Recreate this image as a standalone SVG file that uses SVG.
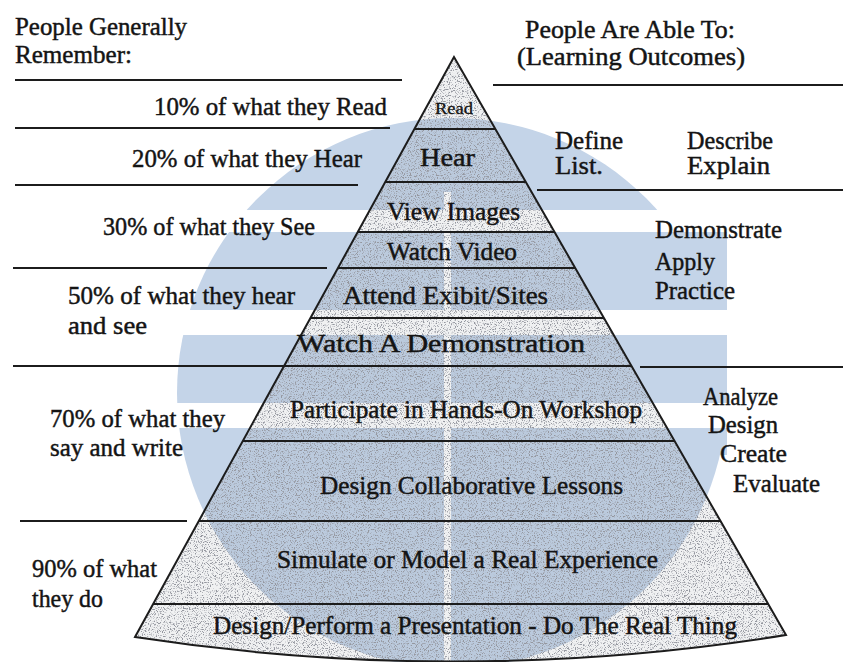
<svg xmlns="http://www.w3.org/2000/svg" width="843" height="662" viewBox="0 0 843 662">
  <style>
    .t { font-family: "Liberation Serif", "Times New Roman", serif; font-size: 25px; fill: #141414; stroke: #141414; stroke-width: 0.45; }
    .s { font-size: 17px; stroke-width: 0.3; }
    .rule { stroke: #1c1c1c; stroke-width: 2; fill: none; }
    .band { stroke: #1c1c1c; stroke-width: 2; }
  </style>
  <defs>
    <!-- stipple texture for the cone -->
    <filter id="stipple" x="0" y="0" width="1" height="1">
      <feTurbulence type="fractalNoise" baseFrequency="0.85" numOctaves="2" seed="7" result="noise"/>
      <feColorMatrix in="noise" type="matrix" values="0 0 0 0 0.30  0 0 0 0 0.31  0 0 0 0 0.35  6 0 0 0 -3.15" result="dots"/>
      <feComposite in="dots" in2="SourceAlpha" operator="in"/>
    </filter>
    <!-- stripes cut into the background emblem -->
    <mask id="emblemCut" maskUnits="userSpaceOnUse" x="0" y="0" width="843" height="662">
      <rect x="0" y="0" width="843" height="210" fill="#fff"/>
      <rect x="0" y="232" width="843" height="78" fill="#fff"/>
      <rect x="0" y="335" width="843" height="68" fill="#fff"/>
      <rect x="0" y="428" width="843" height="234" fill="#fff"/>
      <rect x="444" y="192" width="7" height="470" fill="#000"/>
    </mask>
  </defs>

  <rect width="843" height="662" fill="#ffffff"/>

  <!-- background emblem -->
  <g id="emblem" fill="#c4d4e8" mask="url(#emblemCut)">
    <circle cx="452" cy="393" r="275"/>
    <rect x="452" y="232" width="275" height="223"/>
  </g>

  <!-- cone -->
  <g id="cone">
    <path d="M454,57 L135,637 Q460,687 786,635 Z" fill="#6f7784" fill-opacity="0.1"/>
    <path d="M454,57 L135,637 Q460,687 786,635 Z" fill="#000" filter="url(#stipple)"/>
    <path d="M454,57 L135,637 Q460,687 786,635 Z" class="rule"/>
  </g>

  <!-- band dividers inside the cone -->
  <g id="dividers">
    <line class="band" x1="414" y1="129" x2="495" y2="129"/>
    <line class="band" x1="385" y1="182" x2="526" y2="182"/>
    <line class="band" x1="358" y1="232" x2="554" y2="232"/>
    <line class="band" x1="338" y1="268" x2="575" y2="268"/>
    <line class="band" x1="310" y1="318" x2="604" y2="318"/>
    <line class="band" x1="284" y1="366" x2="631" y2="366"/>
    <line class="band" x1="243" y1="441" x2="675" y2="441"/>
    <line class="band" x1="199" y1="521" x2="720" y2="521"/>
    <line class="band" x1="153" y1="604" x2="768" y2="604"/>
  </g>

  <!-- side rules -->
  <g id="rules">
    <line class="rule" x1="15" y1="80" x2="402" y2="80"/>
    <line class="rule" x1="15" y1="128" x2="390" y2="128"/>
    <line class="rule" x1="15" y1="185" x2="358" y2="185"/>
    <line class="rule" x1="13" y1="268" x2="327" y2="268"/>
    <line class="rule" x1="13" y1="366" x2="284" y2="366"/>
    <line class="rule" x1="20" y1="521" x2="187" y2="521"/>
    <line class="rule" x1="493" y1="85" x2="843" y2="85"/>
    <line class="rule" x1="537" y1="190" x2="843" y2="190"/>
    <line class="rule" x1="640" y1="367" x2="843" y2="367"/>
  </g>

  <!-- cone labels -->
  <g id="cone-labels">
    <text class="t s" x="435" y="114" textLength="38" lengthAdjust="spacingAndGlyphs">Read</text>
    <text class="t" x="420" y="166" textLength="55" lengthAdjust="spacingAndGlyphs">Hear</text>
    <text class="t" x="387" y="220" textLength="133" lengthAdjust="spacingAndGlyphs">View Images</text>
    <text class="t" x="387" y="260" textLength="130" lengthAdjust="spacingAndGlyphs">Watch Video</text>
    <text class="t" x="343" y="304" textLength="205" lengthAdjust="spacingAndGlyphs">Attend Exibit/Sites</text>
    <text class="t" x="297" y="352" textLength="288" lengthAdjust="spacingAndGlyphs">Watch A Demonstration</text>
    <text class="t" x="290" y="418" textLength="352" lengthAdjust="spacingAndGlyphs">Participate in Hands-On Workshop</text>
    <text class="t" x="320" y="494" textLength="303" lengthAdjust="spacingAndGlyphs">Design Collaborative Lessons</text>
    <text class="t" x="277" y="568" textLength="381" lengthAdjust="spacingAndGlyphs">Simulate or Model a Real Experience</text>
    <text class="t" x="213" y="634" textLength="524" lengthAdjust="spacingAndGlyphs">Design/Perform a Presentation - Do The Real Thing</text>
  </g>

  <!-- retention column -->
  <g id="remember">
    <text class="t" x="15" y="35" textLength="172" lengthAdjust="spacingAndGlyphs">People Generally</text>
    <text class="t" x="15" y="63" textLength="117" lengthAdjust="spacingAndGlyphs">Remember:</text>
    <text class="t" x="154" y="115" textLength="233" lengthAdjust="spacingAndGlyphs">10% of what they Read</text>
    <text class="t" x="132" y="167" textLength="230" lengthAdjust="spacingAndGlyphs">20% of what they Hear</text>
    <text class="t" x="103" y="235" textLength="212" lengthAdjust="spacingAndGlyphs">30% of what they See</text>
    <text class="t" x="68" y="304" textLength="227" lengthAdjust="spacingAndGlyphs">50% of what they hear</text>
    <text class="t" x="68" y="334" textLength="79" lengthAdjust="spacingAndGlyphs">and see</text>
    <text class="t" x="50" y="427" textLength="175" lengthAdjust="spacingAndGlyphs">70% of what they</text>
    <text class="t" x="50" y="456" textLength="133" lengthAdjust="spacingAndGlyphs">say and write</text>
    <text class="t" x="32" y="577" textLength="125" lengthAdjust="spacingAndGlyphs">90% of what</text>
    <text class="t" x="32" y="607" textLength="71" lengthAdjust="spacingAndGlyphs">they do</text>
  </g>

  <!-- outcomes column -->
  <g id="outcomes">
    <text class="t" x="525" y="38" textLength="210" lengthAdjust="spacingAndGlyphs">People Are Able To:</text>
    <text class="t" x="517" y="65" textLength="228" lengthAdjust="spacingAndGlyphs">(Learning Outcomes)</text>
    <text class="t" x="555" y="149" textLength="68" lengthAdjust="spacingAndGlyphs">Define</text>
    <text class="t" x="687" y="149" textLength="86" lengthAdjust="spacingAndGlyphs">Describe</text>
    <text class="t" x="555" y="174" textLength="48" lengthAdjust="spacingAndGlyphs">List.</text>
    <text class="t" x="687" y="174" textLength="83" lengthAdjust="spacingAndGlyphs">Explain</text>
    <text class="t" x="655" y="238" textLength="127" lengthAdjust="spacingAndGlyphs">Demonstrate</text>
    <text class="t" x="655" y="270" textLength="60" lengthAdjust="spacingAndGlyphs">Apply</text>
    <text class="t" x="655" y="299" textLength="80" lengthAdjust="spacingAndGlyphs">Practice</text>
    <text class="t" x="703" y="405" textLength="75" lengthAdjust="spacingAndGlyphs">Analyze</text>
    <text class="t" x="708" y="433" textLength="70" lengthAdjust="spacingAndGlyphs">Design</text>
    <text class="t" x="720" y="462" textLength="67" lengthAdjust="spacingAndGlyphs">Create</text>
    <text class="t" x="733" y="492" textLength="87" lengthAdjust="spacingAndGlyphs">Evaluate</text>
  </g>
</svg>
